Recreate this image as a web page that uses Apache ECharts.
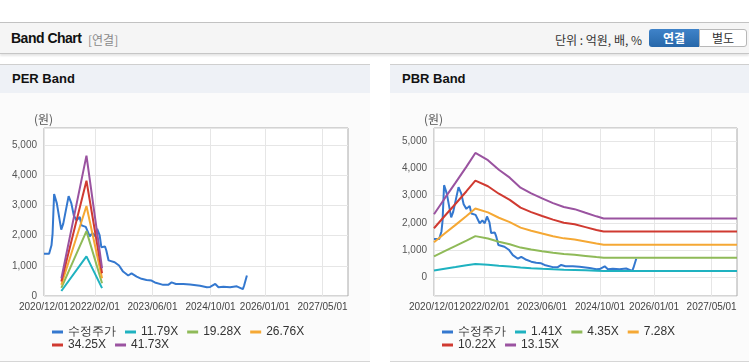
<!DOCTYPE html>
<html>
<head>
<meta charset="utf-8">
<script src="https://cdn.jsdelivr.net/npm/echarts@6/dist/echarts.min.js"></script>
<style>
	body { margin: 0; width: 749px; height: 364px; background: #fff; position: relative; overflow: hidden;
		font-family: "Liberation Sans", "Noto Sans CJK KR", sans-serif; }
	.top { position: absolute; left: 0; top: 22px; width: 749px; height: 30px; background: #f5f5f5;
		border-top: 1px solid #c2c2c2; border-bottom: 1px solid #c6c6c6; box-shadow: 0 2px 2px rgba(0,0,0,0.10); }
	.top .ttl { position: absolute; left: 11px; top: 7px; font-size: 14px; font-weight: bold; color: #111; letter-spacing: -0.5px; }
	.top .sub { position: absolute; left: 88px; top: 8px; font-size: 12px; color: #8a8a8a; font-family: "Noto Sans CJK KR", sans-serif; }
	.top .unit { position: absolute; right: 107px; top: 8px; font-size: 12px; color: #333; font-family: "Noto Sans CJK KR", sans-serif; }
	.btn { position: absolute; top: 6px; height: 18px; line-height: 18px; text-align: center; font-size: 12px;
		font-family: "Noto Sans CJK KR", sans-serif; box-sizing: border-box; }
	.b1 { left: 649px; width: 50px; background: linear-gradient(#3f83c9, #2767a9); color: #fff; font-weight: bold; border-radius: 3px 0 0 3px; }
	.b2 { left: 699px; width: 48px; background: #fff; color: #333; border: 1px solid #b8b8b8; border-radius: 0 3px 3px 0; line-height: 16px; }
	.panel { position: absolute; top: 64px; height: 296px; border-top: 1px solid #cfcfcf; border-bottom: 1px solid #d6d6d6; background: #fbfbfb; }
	.ph { height: 28px; line-height: 28px; background: #eef1f6; font-size: 13px; font-weight: bold; color: #111; padding-left: 12px; }
	.chart { position: absolute; left: 0; top: 28px; height: 268px; }
</style>
</head>
<body>
<div class="top">
	<div class="ttl">Band Chart</div>
	<div class="sub">[연결]</div>
	<div class="unit">단위 : 억원, 배, %</div>
	<div class="btn b1">연결</div>
	<div class="btn b2">별도</div>
</div>
<div class="panel" style="left:0;width:370px;">
	<div class="ph">PER Band</div>
	<div id="per" class="chart" style="width:370px;"></div>
</div>
<div class="panel" style="left:390px;width:359px;">
	<div class="ph">PBR Band</div>
	<div id="pbr" class="chart" style="width:359px;"></div>
</div>
<script>
	// x axis labels
	const xTickDates = ['2020-12-01', '2022-02-01', '2023-06-01', '2024-10-01', '2026-01-01', '2027-05-01'];

	// 수정주가
	const priceDates = ['2020-12-01', '2021-01-13', '2021-02-02', '2021-02-11', '2021-02-24', '2021-03-19', '2021-04-25',
		'2021-05-12', '2021-06-26', '2021-07-19', '2021-08-08', '2021-08-31', '2021-09-28', '2021-10-12', '2021-11-17',
		'2021-12-21', '2022-01-13', '2022-02-02', '2022-02-21', '2022-03-14', '2022-03-28', '2022-04-11', '2022-04-28',
		'2022-05-09', '2022-05-28', '2022-07-18', '2022-08-24', '2022-09-27', '2022-11-09', '2022-12-07', '2023-01-19',
		'2023-03-01', '2023-04-12', '2023-05-24', '2023-06-21', '2023-08-30', '2023-10-11', '2023-11-09', '2023-12-15',
		'2024-02-15', '2024-04-12', '2024-07-05', '2024-08-31', '2024-09-28', '2024-11-10', '2024-12-07', '2025-01-18',
		'2025-03-15', '2025-05-10', '2025-06-30', '2025-07-10', '2025-08-03'];
	const priceValues = [1400, 1400, 1680, 2060, 3380, 3070, 2200,
		2400, 3310, 3070, 2680, 2510, 2620, 2340, 2290,
		1980, 2090, 1980, 2230, 2010, 1620, 1560, 1640,
		1510, 1180, 1120, 1010, 810, 680, 750, 640,
		570, 530, 510, 450, 370, 370, 450, 400,
		400, 380, 340, 290, 300, 400, 290, 310,
		290, 320, 230, 340, 680];

	// PER band
	const perNames = ['11.79X', '19.28X', '26.76X', '34.25X', '41.73X'];
	const perDates = ['2021-04-26', '2021-11-23', '2022-04-03'];
	const per1 = [165, 1315, 260];
	const per2 = [270, 2150, 425];
	const per3 = [375, 2985, 590];
	const per4 = [480, 3820, 755];
	const per5 = [585, 4655, 920];

	// PBR band
	const pbrNames = ['1.41X', '4.35X', '7.28X', '10.22X', '13.15X'];
	const pbrDates = ['2020-12-01', '2021-03-01', '2021-06-01', '2021-09-01', '2021-11-15', '2022-03-01', '2022-06-01',
		'2022-09-01', '2022-12-01', '2023-03-01', '2023-06-01', '2023-09-01', '2023-12-01', '2024-03-01', '2024-06-01',
		'2024-09-01', '2024-11-01', '2027-12-01'];
	const pbr1 = [248, 310, 372, 436, 489, 461, 423, 392, 353, 330, 310, 292, 276, 268, 254, 240, 231, 231];
	const pbr2 = [766, 957, 1148, 1344, 1509, 1422, 1305, 1209, 1088, 1018, 957, 900, 853, 827, 783, 740, 713, 713];
	const pbr3 = [1281, 1602, 1922, 2250, 2526, 2381, 2184, 2024, 1820, 1704, 1602, 1507, 1427, 1383, 1310, 1238, 1194, 1194];
	const pbr4 = [1799, 2248, 2698, 3158, 3546, 3342, 3066, 2841, 2555, 2391, 2248, 2116, 2003, 1942, 1840, 1737, 1676, 1676];
	const pbr5 = [2314, 2893, 3472, 4063, 4563, 4300, 3945, 3656, 3288, 3077, 2893, 2722, 2577, 2499, 2367, 2236, 2157, 2157];

	const colors = ['#3478cf', '#1fb2c0', '#8fba58', '#f5a834', '#d03a31', '#9a53a0'];
	const font = '"Liberation Sans", sans-serif';

	let toTime = s => {
		let p = s.split('-');
		return new Date(+p[0], +p[1] - 1, +p[2]).getTime();
	};
	let pad = n => (n < 10 ? '0' : '') + n;
	let pairs = (dates, vals) => dates.map((d, i) => [toTime(d), vals[i]]);
	let ticks = xTickDates.map(toTime);

	function buildOption(names, dates, bands, yMin, yMax, gridRight) {
		let series = [{
			name: '수정주가', type: 'line', data: pairs(priceDates, priceValues),
			symbol: 'none', lineStyle: { width: 2, color: colors[0] }, itemStyle: { color: colors[0] }
		}];
		bands.forEach((b, i) => {
			series.push({
				name: names[i], type: 'line', data: pairs(dates, b),
				symbol: 'none', lineStyle: { width: 2, color: colors[i + 1] }, itemStyle: { color: colors[i + 1] }
			});
		});
		let legendBase = {
			icon: 'rect', itemWidth: 11, itemHeight: 3, itemGap: 9, left: 52, padding: 0,
			orient: 'horizontal',
			textStyle: { fontSize: 12, color: '#333', width: 40, fontFamily: font }
		};
		let allNames = ['수정주가'].concat(names);
		let yAxis = {
			type: 'value', min: yMin, max: yMax,
			axisLine: { show: false }, axisTick: { show: false },
			axisLabel: {
				showMinLabel: yMin === 0, showMaxLabel: false, color: '#555', fontSize: 10, margin: 7, fontFamily: font,
				formatter: v => v.toLocaleString('en-US')
			},
			splitLine: { lineStyle: { color: '#e6e6e6' } }
		};
		if (yMin === 0) yAxis.interval = 1000; else yAxis.splitNumber = 6;
		return {
			animation: false,
			color: colors,
			title: { text: '(원)', left: 29, top: 15, textStyle: { fontSize: 12, fontWeight: 'normal', color: '#555', fontFamily: '"Noto Sans CJK KR", sans-serif' } },
			grid: { left: 44, right: gridRight, top: 35, bottom: 65, show: true, borderColor: '#aaa', borderWidth: 1, backgroundColor: '#fff' },
			legend: [
				Object.assign({}, legendBase, { top: 233, data: allNames.slice(0, 4) }),
				Object.assign({}, legendBase, { top: 246, data: allNames.slice(4) })
			],
			xAxis: {
				type: 'value', min: toTime('2020-12-01'), max: toTime('2027-12-01'),
				axisLine: { show: false },
				axisTick: { show: false, customValues: ticks },
				axisLabel: {
					customValues: ticks, showMinLabel: true, color: '#444', fontSize: 10, margin: 6, fontFamily: font, hideOverlap: false,
					formatter: v => {
						let d = new Date(v);
						return d.getFullYear() + '/' + pad(d.getMonth() + 1) + '/' + pad(d.getDate());
					}
				},
				splitLine: { show: true, lineStyle: { color: '#e6e6e6' } }
			},
			yAxis: yAxis,
			series: series
		};
	}

	let perChart = echarts.init(document.getElementById('per'));
	perChart.setOption(buildOption(perNames, perDates, [per1, per2, per3, per4, per5], 0, 5570, 22));

	let pbrChart = echarts.init(document.getElementById('pbr'));
	pbrChart.setOption(buildOption(pbrNames, pbrDates, [pbr1, pbr2, pbr3, pbr4, pbr5], -690, 5480, 12));
</script>
</body>
</html>
